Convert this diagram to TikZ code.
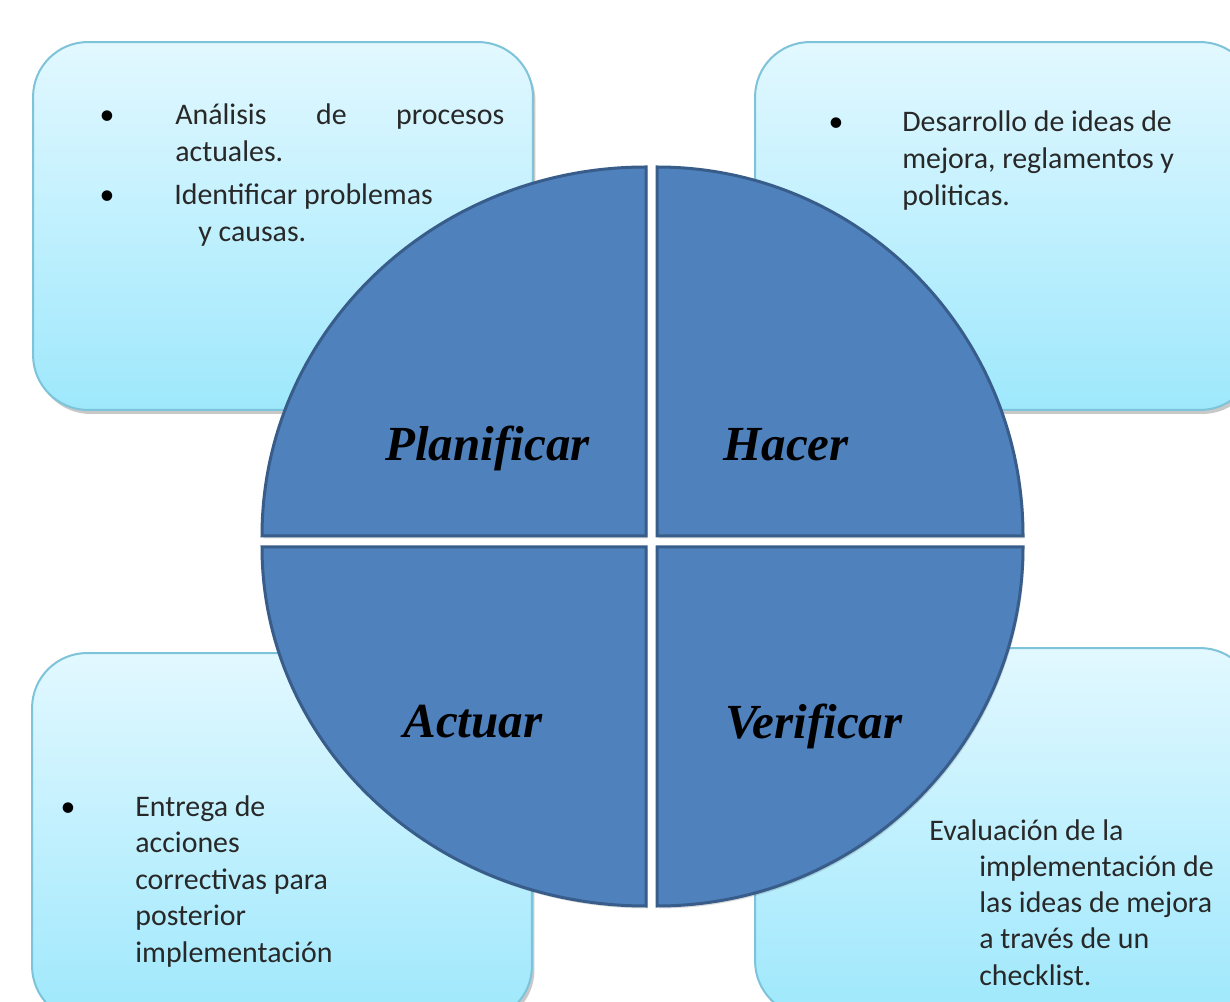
\documentclass[tikz,border=0pt]{standalone}
\usepackage{fontspec}
\setmainfont{Carlito}
\newfontfamily\phasefont{Liberation Serif}
\usetikzlibrary{shadows}

\definecolor{boxtop}{RGB}{226,248,255}
\definecolor{boxbot}{RGB}{158,232,252}
\definecolor{boxline}{RGB}{125,195,217}
\definecolor{quadfill}{RGB}{79,129,189}
\definecolor{quadline}{RGB}{56,93,138}
\definecolor{txt}{RGB}{40,40,40}

\tikzset{
  infobox/.style={draw=boxline, line width=0.04cm, rounded corners=1.1cm,
    top color=boxtop, bottom color=boxbot, minimum width=10cm, minimum height=7.36cm,
    drop shadow={shadow xshift=0.05cm, shadow yshift=-0.08cm, opacity=0.3, fill=black!70}},
  quad/.style={fill=quadfill, draw=quadline, line width=0.06cm,
    drop shadow={shadow xshift=0.03cm, shadow yshift=-0.05cm, opacity=0.2, fill=black!70}},
  phase/.style={font=\phasefont\bfseries\itshape\fontsize{27.9}{30}\selectfont,
    anchor=base west, inner sep=0pt},
  txtline/.style={font=\fontsize{17}{20}\selectfont, text=txt, anchor=base west, inner sep=0pt},
  bulletdot/.style={font=\fontsize{17}{20}\selectfont, anchor=base, inner sep=0pt}
}

\begin{document}
\begin{tikzpicture}[x=0.02cm, y=0.02cm]
  \useasboundingbox (0,0) rectangle (1230,1001);
  \clip (0,0) rectangle (1230,1001);
  \fill[white] (0,0) rectangle (1230,1001);

  % cajas
  \node[infobox] (boxplan) at (283,775) {};
  \node[infobox] (boxhacer) at (1005,775) {};
  \node[infobox] (boxactuar) at (282,164) {};
  \node[infobox] (boxverif) at (1005,169) {};

  % cuadrantes del circulo
  \draw[quad] (646,465) -- (262,465) arc[start angle=180, end angle=90, x radius=384, y radius=369] -- cycle;
  \draw[quad] (657,465) -- (657,834) arc[start angle=90, end angle=0, x radius=366, y radius=369] -- cycle;
  \draw[quad] (646,454) -- (646,95) arc[start angle=270, end angle=180, x radius=384, y radius=359] -- cycle;
  \draw[quad] (657,454) -- (1023,454) arc[start angle=0, end angle=-90, x radius=366, y radius=359] -- cycle;

  \node[phase] (planificar) at (385,540) {Planificar};
  \node[phase] (hacer) at (723,540) {Hacer};
  \node[phase] (actuar) at (403,264) {Actuar};
  \node[phase] (verificar) at (725,263) {Verificar};

  % Planificar
  \node[bulletdot] (plandot1) at (107,876) {\textbullet};
  \node[txtline] (plan1) at (175,876) {\makebox[6.58cm][s]{Análisis de procesos}};
  \node[txtline] (plan2) at (175,839) {actuales.};
  \node[bulletdot] (plandot2) at (107,796) {\textbullet};
  \node[txtline] (plan3) at (174,796) {Identificar problemas};
  \node[txtline] (plan4) at (198,759) {y causas.};

  % Hacer
  \node[bulletdot] (hacerdot) at (836,869) {\textbullet};
  \node[txtline] (hacer1) at (902,869) {Desarrollo de ideas de};
  \node[txtline] (hacer2) at (902,832) {mejora, reglamentos y};
  \node[txtline] (hacer3) at (902,795) {politicas.};

  % Actuar
  \node[bulletdot] (actuardot) at (68,185) {\textbullet};
  \node[txtline] (actuar1) at (135,185) {Entrega de};
  \node[txtline] (actuar2) at (135,148.5) {acciones};
  \node[txtline] (actuar3) at (135,112) {correctivas para};
  \node[txtline] (actuar4) at (135,75.5) {posterior};
  \node[txtline] (actuar5) at (135,39) {implementación};

  % Verificar
  \node[txtline] (verif1) at (929,161) {Evaluación de la};
  \node[txtline] (verif2) at (979,124.75) {implementación de};
  \node[txtline] (verif3) at (979,88.5) {las ideas de mejora};
  \node[txtline] (verif4) at (979,52.25) {a través de un};
  \node[txtline] (verif5) at (979,16) {checklist.};
\end{tikzpicture}
\end{document}
